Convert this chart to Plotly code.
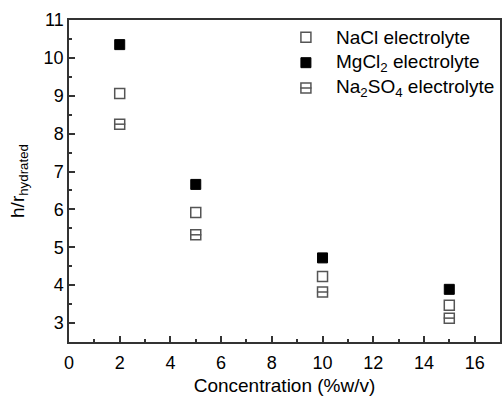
import plotly.graph_objects as go

# Concentration (%w/v) and h/r_hydrated for each electrolyte
concentration = [2, 5, 10, 15]
nacl = [9.06, 5.92, 4.23, 3.47]
mgcl2 = [10.35, 6.66, 4.72, 3.89]
na2so4 = [8.25, 5.33, 3.82, 3.13]

series_names = ["NaCl electrolyte", "MgCl<sub>2</sub> electrolyte",
                "Na<sub>2</sub>SO<sub>4</sub> electrolyte"]

FONT = "Liberation Sans, Arial, sans-serif"
GRAY = "#555555"
MSIZE = 10

open_sq = dict(symbol="square-open", size=MSIZE, color=GRAY,
               line=dict(color=GRAY, width=1.5))
bar_sq = dict(symbol="line-ew-open", size=MSIZE - 2, color=GRAY,
              line=dict(color=GRAY, width=1.5))
solid_sq = dict(symbol="square", size=MSIZE, color="black",
                line=dict(color="black", width=1))

fig = go.Figure()

fig.add_trace(go.Scatter(x=concentration, y=nacl, mode="markers",
                         marker=open_sq, showlegend=False))
fig.add_trace(go.Scatter(x=concentration, y=mgcl2, mode="markers",
                         marker=solid_sq, showlegend=False))
# Na2SO4: open square with a horizontal bar through the middle
fig.add_trace(go.Scatter(x=concentration, y=na2so4, mode="markers",
                         marker=open_sq, showlegend=False))
fig.add_trace(go.Scatter(x=concentration, y=na2so4, mode="markers",
                         marker=bar_sq, showlegend=False))

# Legend drawn on its own hidden axes so the composite symbol can be shown
key_x = 0.05
fig.add_trace(go.Scatter(x=[key_x], y=[2], mode="markers", xaxis="x2", yaxis="y2",
                         marker=open_sq, showlegend=False, hoverinfo="skip"))
fig.add_trace(go.Scatter(x=[key_x], y=[1], mode="markers", xaxis="x2", yaxis="y2",
                         marker=solid_sq, showlegend=False, hoverinfo="skip"))
fig.add_trace(go.Scatter(x=[key_x], y=[0], mode="markers", xaxis="x2", yaxis="y2",
                         marker=open_sq, showlegend=False, hoverinfo="skip"))
fig.add_trace(go.Scatter(x=[key_x], y=[0], mode="markers", xaxis="x2", yaxis="y2",
                         marker=bar_sq, showlegend=False, hoverinfo="skip"))
for name, yy in zip(series_names, [2, 1, 0]):
    fig.add_annotation(x=0.19, y=yy, xref="x2", yref="y2", text=name, showarrow=False,
                       xanchor="left", yanchor="middle",
                       font=dict(family=FONT, size=19, color="black"))

axis_common = dict(showline=True, linecolor="#333333", linewidth=1.5, mirror=True,
                   ticks="inside", ticklen=6, tickwidth=1.5, tickcolor="#333333",
                   showgrid=False, zeroline=False,
                   tickfont=dict(family=FONT, size=18, color="black"),
                   minor=dict(ticks="inside", ticklen=3.5, tickwidth=1.5, tickcolor="#333333"))

fig.update_layout(
    width=502, height=400,
    margin=dict(l=69, r=0, t=20, b=58),
    plot_bgcolor="white", paper_bgcolor="white",
    xaxis=dict(range=[0, 17], dtick=2, minor_dtick=1, ticklabelstandoff=4,
               title=dict(text="Concentration (%w/v)", standoff=6,
                          font=dict(family=FONT, size=19, color="black")),
               **axis_common),
    yaxis=dict(range=[2.5, 11], dtick=1, tick0=3, minor_dtick=0.5,
               title=dict(text="h/r<sub>hydrated</sub>", standoff=14,
                          font=dict(family=FONT, size=19, color="black")),
               **axis_common),
    xaxis2=dict(domain=[0.5266, 0.9885], range=[0, 1], visible=False, anchor="y2"),
    yaxis2=dict(domain=[0.745, 0.9899], range=[-0.55, 2.55], visible=False, anchor="x2"),
    showlegend=False,
)

fig.write_html("out.html")
